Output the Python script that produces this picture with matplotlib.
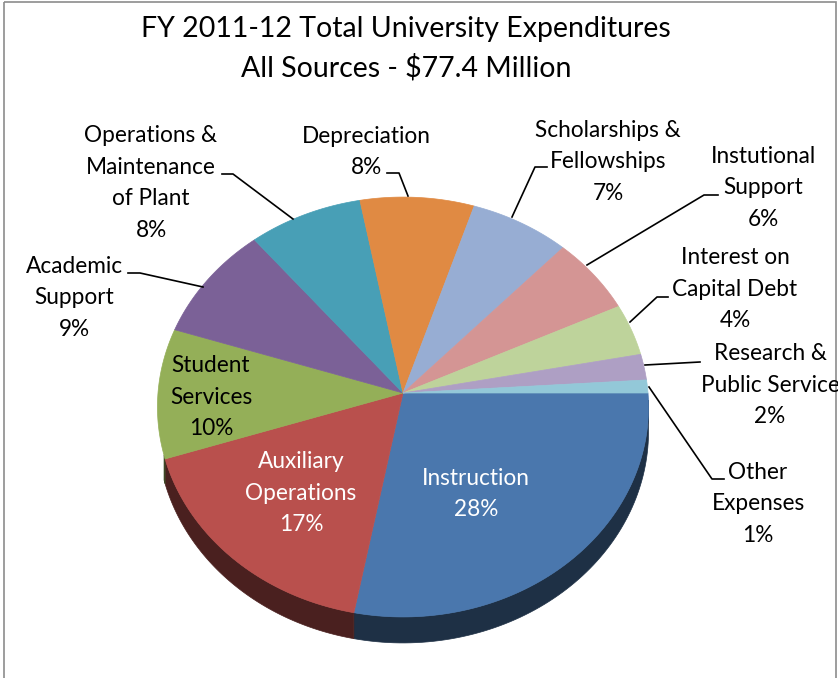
import numpy as np
import matplotlib.pyplot as plt
from matplotlib.patches import Polygon, Rectangle
from matplotlib.colors import to_rgb

plt.rcParams['font.family'] = ['Lato', 'DejaVu Sans']

categories = ['Instruction', 'Auxiliary\nOperations', 'Student\nServices', 'Academic\nSupport',
              'Operations &\nMaintenance\nof Plant', 'Depreciation', 'Scholarships &\nFellowships',
              'Instutional\nSupport', 'Interest on\nCapital Debt', 'Research &\nPublic Service',
              'Other\nExpenses']
shares = [28, 17, 10, 9, 8, 8, 7, 6, 4, 2, 1]
colors = ['#4A77AD', '#B9504D', '#94AF58', '#7B6197', '#489FB6', '#E08A43',
          '#97ADD3', '#D49594', '#BED39B', '#AE9FC4', '#93C8D8']
title = 'FY 2011-12 Total University Expenditures\nAll Sources - $77.4 Million'

# pie geometry in pixels (perspective tilted disc)
CX, CY = 403, 393
R, RK = 245, 209
P = 0.0667
DEPTH = 26 * (1 - P)


def proj(theta, depth=0.0):
    t = np.radians(theta)
    x, y = np.cos(t), np.sin(t)
    s = 1.0 / (1.0 - P * y)
    return CX + R * x * s, CY + RK * y * s + depth * s


fig = plt.figure(figsize=(8.38, 6.78), dpi=100)
ax = fig.add_axes([0, 0, 1, 1])
ax.set_xlim(0, 838)
ax.set_ylim(678, 0)
ax.axis('off')

ax.add_patch(Rectangle((4, 2), 832, 720, fill=False, edgecolor='#8C8C8C', lw=1.2))

total = sum(shares)
bounds = np.concatenate([[0], np.cumsum(shares) / total * 360.0])

# side walls (front half only)
for i in range(len(shares)):
    a0, a1 = max(bounds[i], 2), min(bounds[i + 1], 163)
    if a1 <= a0:
        continue
    th = np.linspace(a0, a1, 80)
    top = np.array([proj(t) for t in th])
    bot = np.array([proj(t, DEPTH) for t in th])
    pts = np.vstack([top, bot[::-1]])
    side = tuple(c * 0.4 for c in to_rgb(colors[i]))
    ax.add_patch(Polygon(pts, closed=True, facecolor=side, edgecolor=side, lw=0.5))

# top faces
for i in range(len(shares)):
    th = np.linspace(bounds[i], bounds[i + 1], 120)
    arc = np.array([proj(t) for t in th])
    pts = np.vstack([[CX, CY], arc])
    ax.add_patch(Polygon(pts, closed=True, facecolor=colors[i], edgecolor=colors[i], lw=0.5))

ax.text(406, 49, title, ha='center', va='center', fontsize=20.5, linespacing=1.55)

fs = 16.3
ls = 1.62
labels = [f'{c}\n{v}%' for c, v in zip(categories, shares)]
# label centres
pos = [(476, 494, 'white'), (301, 493, 'white'), (211, 397, 'black'), (74, 298, 'black'),
       (151, 183, 'black'), (366, 152, 'black'), (608, 162, 'black'), (763, 188, 'black'),
       (735, 289, 'black'), (770, 385, 'black'), (758, 504, 'black')]
for lab, (x, y, c) in zip(labels, pos):
    ax.text(x, y, lab, ha='center', va='center', fontsize=fs, color=c, linespacing=ls)

leaders = [
    [(128, 273), (140, 273), (203, 287)],
    [(222, 174), (233, 174), (293, 219)],
    [(387, 173), (399, 173), (408, 196)],
    [(547, 167), (535, 167), (512, 217)],
    [(718, 195), (704, 195), (587, 265)],
    [(668, 297), (657, 297), (630, 322)],
    [(700, 362), (645, 365)],
    [(724, 479), (712, 479), (649, 387)],
]
for ln in leaders:
    xs, ys = zip(*ln)
    ax.plot(xs, ys, color='black', lw=1.2)

fig.savefig('out.png', dpi=100)
